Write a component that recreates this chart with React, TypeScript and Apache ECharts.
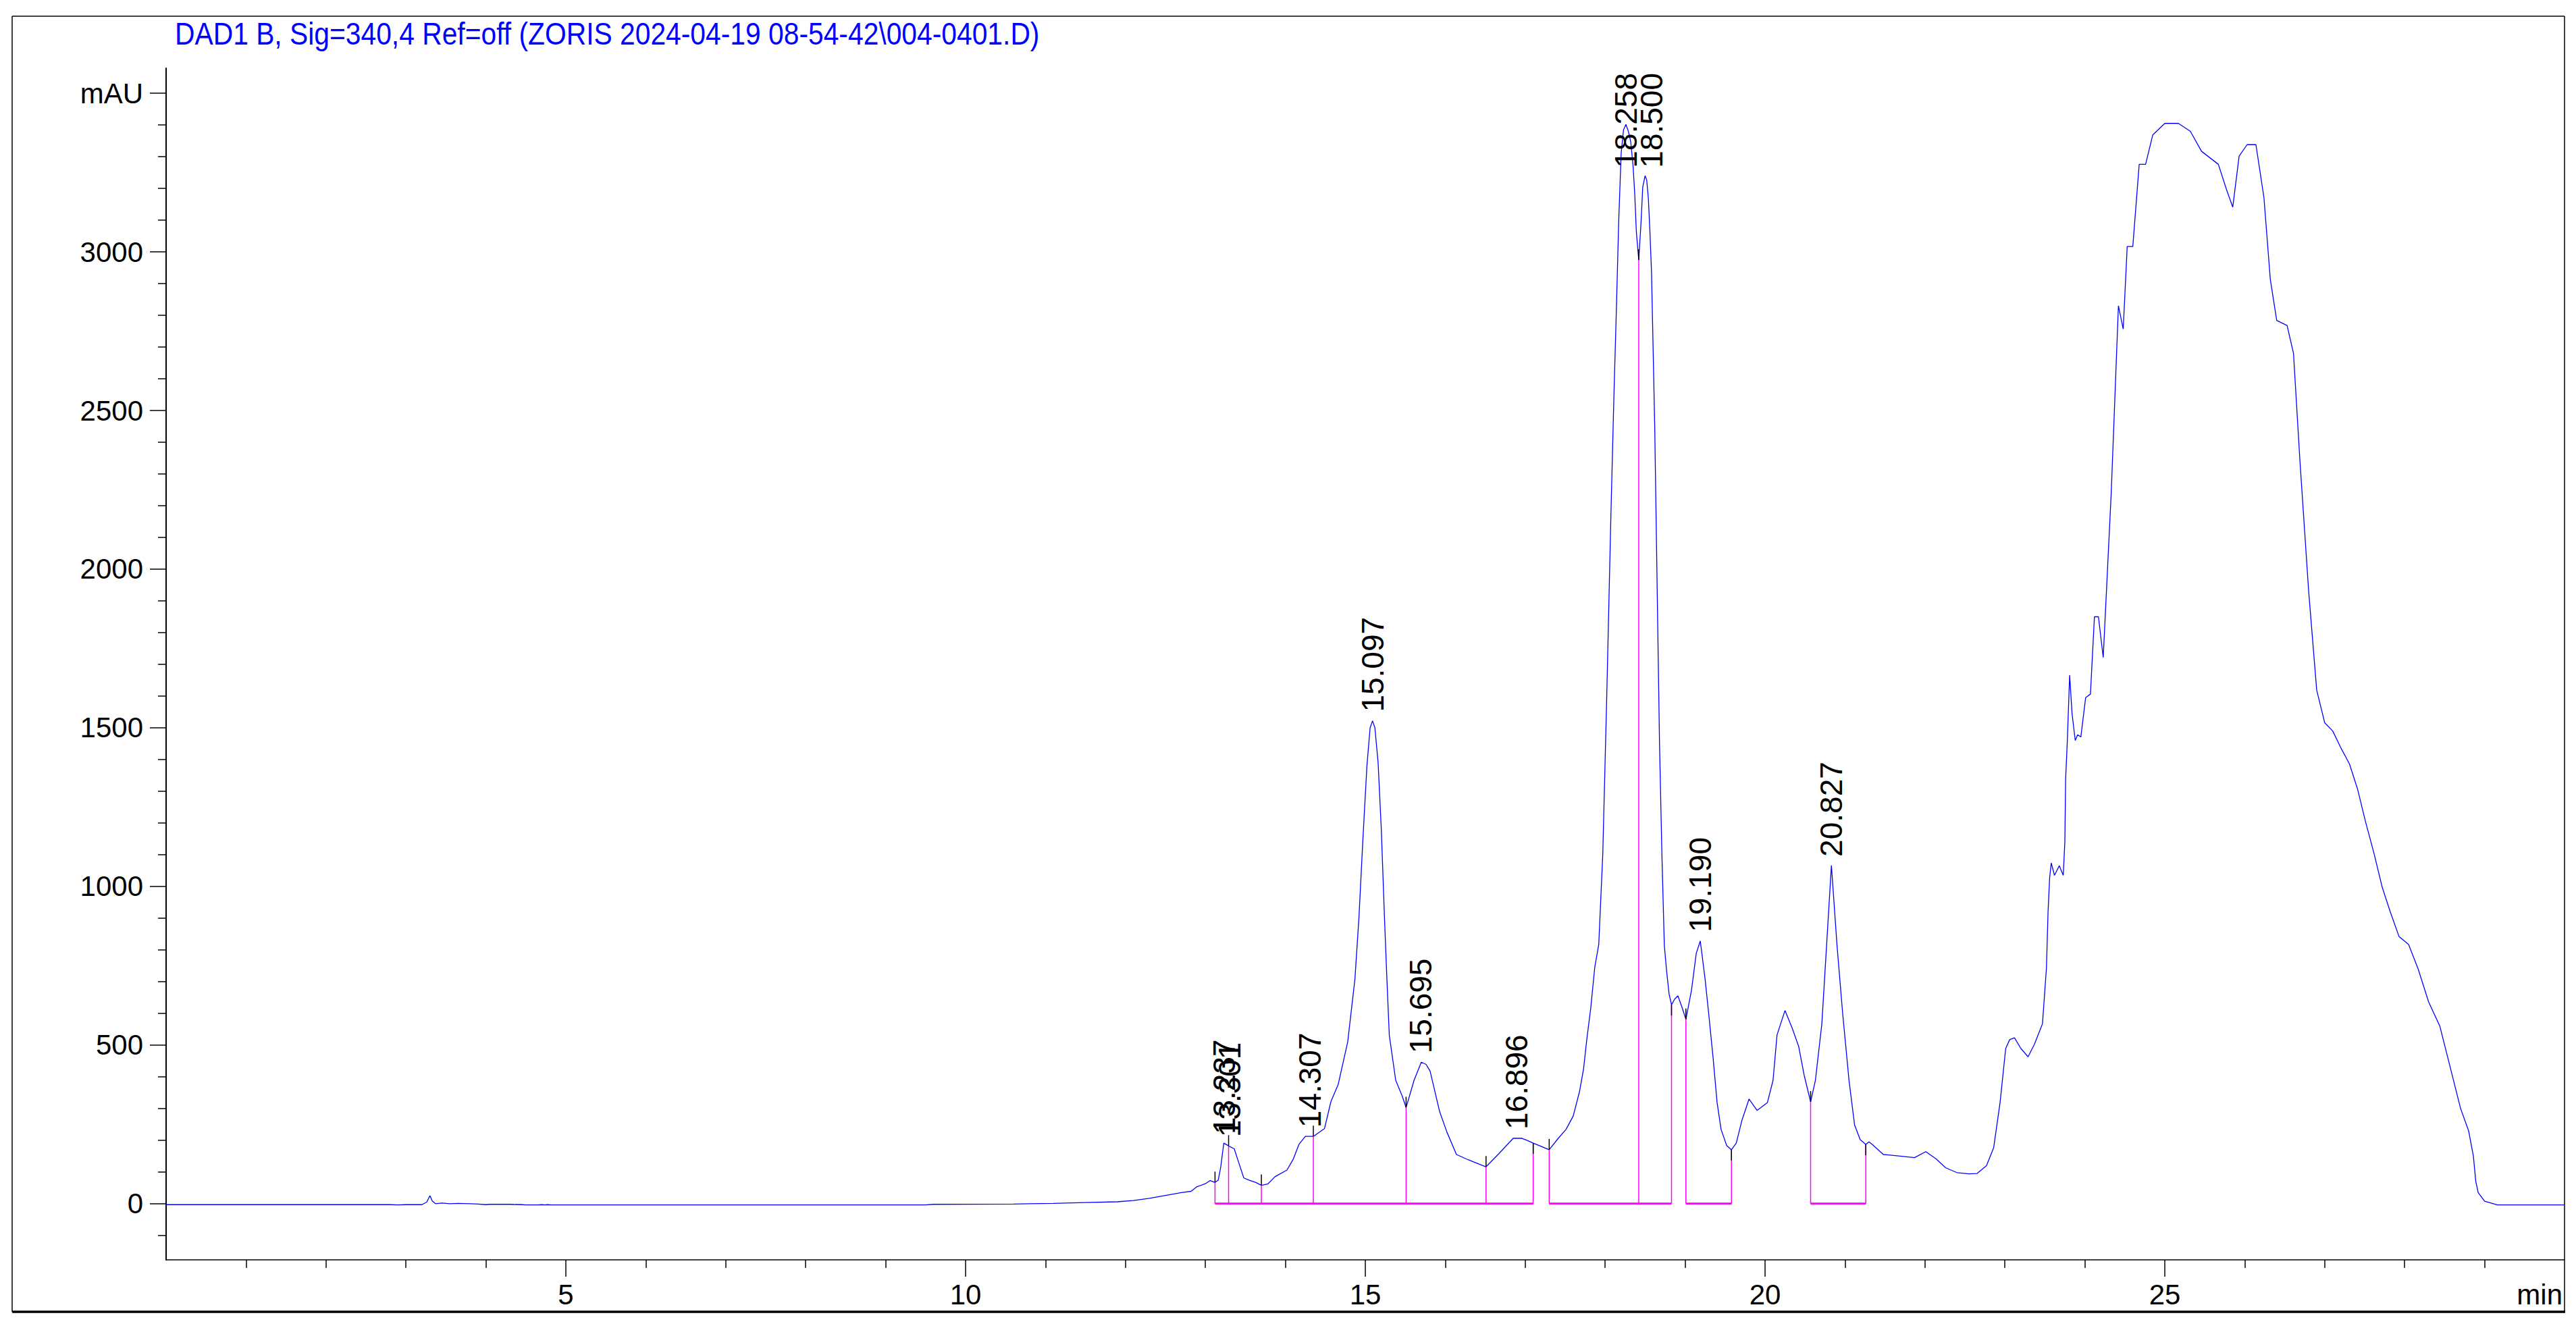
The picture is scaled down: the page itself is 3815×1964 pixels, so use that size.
import React, { useEffect, useRef } from "react";
import * as echarts from "echarts";

const TITLE = "DAD1 B, Sig=340,4 Ref=off (ZORIS 2024-04-19 08-54-42\\004-0401.D)";

const X_MIN = 0;
const X_MAX = 30;
const Y_MIN = -177;
const Y_MAX = 3579;

const X_MAJOR = [5, 10, 15, 20, 25];
const X_MINOR = [1, 2, 3, 4, 6, 7, 8, 9, 11, 12, 13, 14, 16, 17, 18, 19, 21, 22, 23, 24, 26, 27, 28, 29];
const Y_MAJOR = [0, 500, 1000, 1500, 2000, 2500, 3000, 3500];
const Y_MINOR = [-100, 100, 200, 300, 400, 600, 700, 800, 900, 1100, 1200, 1300, 1400, 1600, 1700, 1800, 1900,
  2100, 2200, 2300, 2400, 2600, 2700, 2800, 2900, 3100, 3200, 3300, 3400];

// chromatogram trace (min, mAU)
const TIME = [
  0.0, 2.8, 2.9, 3.0, 3.2, 3.26, 3.3, 3.33, 3.37, 3.45, 3.55, 3.65, 3.8, 3.9, 4.0, 4.05, 4.3, 4.35, 4.45, 4.5,
  4.65, 4.7, 4.74, 4.77, 4.82, 5.0, 9.5, 9.6, 10.6, 11.1, 11.5, 11.9, 12.1, 12.3, 12.5, 12.7, 12.82, 12.89, 13.0, 13.06,
  13.12, 13.16, 13.19, 13.23, 13.27, 13.29, 13.36, 13.42, 13.48, 13.55, 13.63, 13.7, 13.78, 13.87, 14.02, 14.1, 14.17, 14.25, 14.35, 14.49,
  14.57, 14.66, 14.78, 14.87, 14.92, 14.97, 15.02, 15.06, 15.09, 15.12, 15.16, 15.2, 15.24, 15.27, 15.3, 15.38, 15.46, 15.51, 15.61, 15.7,
  15.76, 15.81, 15.93, 16.02, 16.14, 16.29, 16.51, 16.66, 16.85, 16.96, 17.02, 17.1, 17.3, 17.41, 17.51, 17.6, 17.68, 17.73, 17.77, 17.82,
  17.87, 17.92, 17.97, 18.02, 18.07, 18.11, 18.14, 18.17, 18.2, 18.23, 18.26, 18.29, 18.32, 18.35, 18.37, 18.39, 18.42, 18.45, 18.47, 18.5,
  18.52, 18.54, 18.56, 18.58, 18.59, 18.62, 18.65, 18.68, 18.71, 18.74, 18.77, 18.8, 18.83, 18.87, 18.91, 18.96, 19.01, 19.08, 19.14, 19.19,
  19.25, 19.3, 19.35, 19.4, 19.45, 19.52, 19.58, 19.64, 19.71, 19.8, 19.9, 20.03, 20.1, 20.15, 20.25, 20.34, 20.42, 20.49, 20.57, 20.63,
  20.71, 20.77, 20.83, 20.9, 20.97, 21.05, 21.12, 21.19, 21.26, 21.3, 21.34, 21.48, 21.65, 21.87, 22.01, 22.14, 22.26, 22.4, 22.55, 22.65,
  22.77, 22.86, 22.94, 23.01, 23.06, 23.12, 23.2, 23.29, 23.37, 23.47, 23.52, 23.54, 23.56, 23.58, 23.62, 23.68, 23.73, 23.75, 23.76, 23.78,
  23.81, 23.84, 23.88, 23.91, 23.95, 24.01, 24.07, 24.12, 24.17, 24.23, 24.33, 24.42, 24.48, 24.53, 24.6, 24.68, 24.76, 24.85, 25.0, 25.17,
  25.32, 25.46, 25.67, 25.77, 25.85, 25.93, 26.03, 26.14, 26.24, 26.32, 26.4, 26.53, 26.61, 26.69, 26.8, 26.9, 27.0, 27.1, 27.2, 27.31,
  27.41, 27.51, 27.62, 27.72, 27.82, 27.93, 28.05, 28.17, 28.3, 28.44, 28.58, 28.7, 28.8, 28.86, 28.89, 28.92, 29.0, 29.16, 30.0
];
const SIGNAL = [
  -3, -3, -4, -3, -3, 5, 25, 8, 0, 2, 0, 1, 0, -1, -3, -2, -2, -2.5, -3, -4,
  -4, -3, -4, -3, -4, -4, -4, -2, -1, 1, 3.5, 6, 10, 17, 26, 35, 39, 53, 63, 73,
  67, 74, 113, 191, 185, 182, 173, 127, 81, 74, 67, 58, 62, 85, 106, 141, 187, 212, 212, 237,
  322, 375, 510, 708, 900, 1150, 1380, 1500, 1522, 1500, 1390, 1180, 900, 708, 531, 389, 340, 303, 389, 446,
  439, 418, 290, 226, 155, 138, 116, 155, 206, 206, 200, 191, 170, 205, 234, 276, 354, 425, 517, 617,
  745, 817, 1100, 1600, 2150, 2550, 2815, 3100, 3310, 3385, 3402, 3380, 3347, 3268, 3183, 3064, 2974, 3098, 3204, 3240,
  3226, 3170, 3064, 2936, 2815, 2450, 1950, 1450, 1100, 815, 730, 660, 627, 645, 655, 620, 581, 673, 790, 828,
  708, 587, 460, 319, 234, 183, 170, 191, 262, 330, 294, 319, 389, 532, 609, 553, 496, 404, 321, 389,
  566, 815, 1066, 815, 602, 389, 248, 202, 187, 195, 187, 155, 151, 145, 164, 141, 113, 98, 94, 95,
  120, 177, 319, 489, 517, 523, 489, 463, 503, 567, 744, 921, 1028, 1074, 1035, 1065, 1035, 1141, 1340, 1453,
  1666, 1545, 1460, 1478, 1471, 1595, 1606, 1850, 1850, 1722, 2240, 2830, 2757, 3017, 3017, 3276, 3276, 3369, 3405, 3405,
  3380, 3317, 3276, 3198, 3141, 3302, 3338, 3338, 3172, 2913, 2784, 2768, 2680, 2343, 1929, 1619, 1516, 1490, 1438, 1386,
  1308, 1205, 1101, 997, 920, 842, 817, 739, 636, 560, 420, 300, 230, 150, 70, 35, 8, -4, -4
];

// integration baselines
const SEG_START = [13.12, 17.3, 19.01, 20.57];
const SEG_END = [17.1, 18.83, 19.58, 21.26];

// integration events: time, signal at event, tick direction (1 above, -1 below)
const EVENT_TIME = [13.12, 13.29, 13.7, 14.35, 15.51, 16.51, 17.1, 17.3, 18.42, 18.83, 19.01, 19.58, 20.57, 21.26];
const EVENT_VALUE = [67, 182, 58, 212, 303, 116, 191, 170, 2974, 627, 581, 170, 321, 187];
const EVENT_DIR = [1, 1, 1, 1, 1, 1, -1, 1, 1, -1, 1, -1, 1, -1];

// peak retention-time labels
const PEAK_LABELS = ["13.237", "13.301", "14.307", "15.097", "15.695", "16.896", "18.258", "18.500", "19.190", "20.827"];
const PEAK_TIME = [13.237, 13.301, 14.307, 15.097, 15.695, 16.896, 18.258, 18.5, 19.19, 20.827];
const PEAK_HEIGHT = [191, 182, 212, 1522, 446, 206, 3402, 3240, 828, 1066];

const FONT = '"Liberation Sans", Arial, Helvetica, sans-serif';

function labelLength(s: string, size: number) {
  let w = 0;
  for (const c of s) w += c === "." ? 0.278 : 0.556;
  return w * size;
}

export default function App() {
  const ref = useRef<HTMLDivElement>(null);

  useEffect(() => {
    const chart = echarts.init(ref.current as HTMLDivElement, null, { renderer: "svg" });
    let lastClampX = -1e9;
    const LABEL_SIZE = 46;

    chart.setOption({
      animation: false,
      backgroundColor: "#ffffff",
      grid: { left: 246, right: 17, top: 101, bottom: 98, containLabel: false },
      xAxis: [
        {
          type: "value", min: X_MIN, max: X_MAX, position: "bottom",
          axisLine: { show: true, onZero: false, lineStyle: { color: "#000", width: 1.5 } },
          axisTick: { show: true, length: 25, customValues: X_MAJOR, lineStyle: { color: "#000", width: 1.5 } },
          axisLabel: { show: true, customValues: X_MAJOR, margin: 30, fontSize: 42, fontFamily: FONT, color: "#000" },
          splitLine: { show: false }
        },
        {
          type: "value", min: X_MIN, max: X_MAX, position: "bottom",
          axisLine: { show: false, onZero: false },
          axisTick: { show: true, length: 12, customValues: X_MINOR, lineStyle: { color: "#000", width: 1.5 } },
          axisLabel: { show: false },
          splitLine: { show: false }
        }
      ],
      yAxis: [
        {
          type: "value", min: Y_MIN, max: Y_MAX, position: "left",
          axisLine: { show: true, onZero: false, lineStyle: { color: "#000", width: 2 } },
          axisTick: { show: true, length: 24, customValues: Y_MAJOR, lineStyle: { color: "#000", width: 1.5 } },
          axisLabel: {
            show: true, customValues: Y_MAJOR, margin: 34, fontSize: 42, fontFamily: FONT, color: "#000",
            formatter: (v: number) => (v === 3500 ? "mAU" : String(v))
          },
          splitLine: { show: false }
        },
        {
          type: "value", min: Y_MIN, max: Y_MAX, position: "left",
          axisLine: { show: false, onZero: false },
          axisTick: { show: true, length: 12, customValues: Y_MINOR, lineStyle: { color: "#000", width: 1.5 } },
          axisLabel: { show: false },
          splitLine: { show: false }
        }
      ],
      graphic: [
        { type: "line", shape: { x1: 18, y1: 24, x2: 3798, y2: 24 }, style: { stroke: "#000", lineWidth: 1.5 } },
        { type: "line", shape: { x1: 18, y1: 24, x2: 18, y2: 1943 }, style: { stroke: "#000", lineWidth: 1.5 } },
        { type: "line", shape: { x1: 3798, y1: 24, x2: 3798, y2: 1943 }, style: { stroke: "#000", lineWidth: 1.5 } },
        { type: "line", shape: { x1: 18, y1: 1943, x2: 3799, y2: 1943 }, style: { stroke: "#000", lineWidth: 3.5 } },
        {
          type: "text", x: 259, y: 50, scaleX: 0.887,
          style: { text: TITLE, fill: "#0000ff", fontSize: 46, fontFamily: FONT, align: "left", verticalAlign: "middle" }
        },
        {
          type: "text", x: 3795, y: 1917,
          style: { text: "min", fill: "#000", fontSize: 42, fontFamily: FONT, align: "right", verticalAlign: "middle" }
        }
      ],
      series: [
        {
          type: "line", xAxisIndex: 0, yAxisIndex: 0,
          data: TIME.map((t, i) => [t, SIGNAL[i]]),
          showSymbol: false, symbol: "none", silent: true,
          lineStyle: { color: "#0000ff", width: 1.3 }, z: 2
        },
        {
          type: "custom", coordinateSystem: "cartesian2d", xAxisIndex: 0, yAxisIndex: 0, silent: true, z: 3,
          data: SEG_START.map((s, i) => [s, 0, SEG_END[i]]),
          encode: { x: [0, 2], y: 1 },
          renderItem: (_p: any, api: any) => {
            const a = api.coord([api.value(0), 0]);
            const b = api.coord([api.value(2), 0]);
            return { type: "line", shape: { x1: a[0], y1: a[1], x2: b[0], y2: b[1] }, style: { stroke: "#ff00ff", lineWidth: 3 } };
          }
        },
        {
          type: "custom", coordinateSystem: "cartesian2d", xAxisIndex: 0, yAxisIndex: 0, silent: true, z: 4,
          data: EVENT_TIME.map((t, i) => [t, EVENT_VALUE[i], EVENT_DIR[i]]),
          encode: { x: 0, y: 1 },
          renderItem: (_p: any, api: any) => {
            const t = api.value(0);
            const v = api.value(1);
            const d = api.value(2);
            const p0 = api.coord([t, 0]);
            const p1 = api.coord([t, v]);
            return {
              type: "group",
              children: [
                { type: "line", shape: { x1: p0[0], y1: p0[1], x2: p1[0], y2: p1[1] }, style: { stroke: "#ff00ff", lineWidth: 1.5 } },
                { type: "line", shape: { x1: p1[0], y1: p1[1], x2: p1[0], y2: p1[1] - d * 16 }, style: { stroke: "#000", lineWidth: 1.5 } }
              ]
            };
          }
        },
        {
          type: "custom", coordinateSystem: "cartesian2d", xAxisIndex: 0, yAxisIndex: 0, silent: true, z: 5,
          data: PEAK_TIME.map((t, i) => [t, PEAK_HEIGHT[i]]),
          encode: { x: 0, y: 1 },
          renderItem: (params: any, api: any) => {
            const i = params.dataIndex;
            if (i === 0) lastClampX = -1e9;
            const label = PEAK_LABELS[i];
            const p = api.coord([api.value(0), api.value(1)]);
            const top = api.coord([X_MIN, Y_MAX])[1];
            const len = labelLength(label, LABEL_SIZE);
            let x = p[0];
            let y = p[1] - 13;
            if (y - len < top + 7) {
              y = top + 7 + len;
              if (x < lastClampX + 38) x = lastClampX + 38;
              lastClampX = x;
            }
            return {
              type: "text", x, y, rotation: Math.PI / 2,
              style: { text: label, fill: "#000", fontSize: LABEL_SIZE, fontFamily: FONT, align: "left", verticalAlign: "middle" }
            };
          }
        }
      ]
    });

    return () => chart.dispose();
  }, []);

  return (
    <div
      ref={ref}
      style={{ position: "fixed", left: 0, top: 0, width: 3815, height: 1964, background: "#ffffff" }}
    />
  );
}
